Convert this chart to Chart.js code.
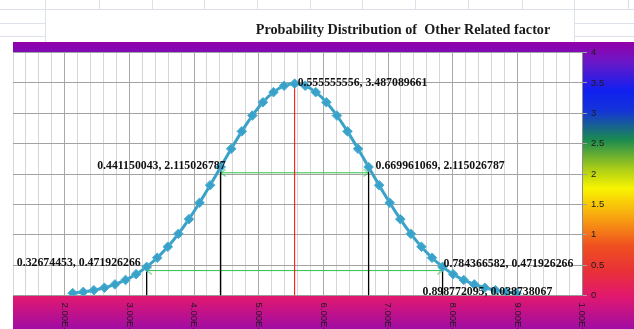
<!DOCTYPE html>
<html>
<head>
<meta charset="utf-8">
<script src="https://cdn.jsdelivr.net/npm/chart.js@4.4.1/dist/chart.umd.min.js"></script>
<style>
  html, body { margin: 0; padding: 0; background: #fff; }
  #wrap { width: 634px; height: 329px; }
</style>
</head>
<body>
<div id="wrap"><canvas id="chart" width="634" height="329"></canvas></div>
<script>
const titleText = "Probability Distribution of  Other Related factor";

// curve points
const curveX = [0.21234, 0.22868, 0.24502, 0.26137, 0.27771, 0.29406, 0.31040, 0.32674, 0.34309, 0.35943,
    0.37577, 0.39212, 0.40846, 0.42481, 0.44115, 0.45749, 0.47384, 0.49018, 0.50652, 0.52287,
    0.53921, 0.55556, 0.57190, 0.58824, 0.60459, 0.62093, 0.63728, 0.65362, 0.66996, 0.68631,
    0.70265, 0.71899, 0.73534, 0.75168, 0.76803, 0.78437, 0.80071, 0.81706, 0.83340, 0.84974,
    0.86609, 0.88243, 0.89877];
const curveY = [0.0387, 0.0589, 0.0876, 0.1278, 0.1827, 0.2558, 0.3510, 0.4719, 0.6216, 0.8023,
    1.0145, 1.2569, 1.5258, 1.8149, 2.1150, 2.4151, 2.7019, 2.9618, 3.1811, 3.3476,
    3.4517, 3.4871, 3.4517, 3.3476, 3.1811, 2.9618, 2.7019, 2.4151, 2.1150, 1.8149,
    1.5258, 1.2569, 1.0145, 0.8023, 0.6216, 0.4719, 0.3510, 0.2558, 0.1827, 0.1278,
    0.0876, 0.0589, 0.0387];

// labelled points
const labelX = [0.32674453, 0.441150043, 0.555555556, 0.669961069, 0.784366582, 0.898772095];
const labelY = [0.471926266, 2.115026787, 3.487089661, 2.115026787, 0.471926266, 0.038738067];

// drop lines
const dropX = [0.32674453, 0.441150043, 0.669961069, 0.784366582];
const dropTop = [0.44, 2.07, 2.07, 0.44];
const meanX = [0.555555556];
const meanTop = [3.487089661];

// arrows between the pairs
const arrowFrom = [0.441150043, 0.32674453];
const arrowTo = [0.669961069, 0.784366582];
const arrowY = [2.02, 0.41];

const xTickValues = [0.2, 0.3, 0.4, 0.5, 0.6, 0.7, 0.8, 0.9, 1.0];
const xTickLabels = ["2.00E-01", "3.00E-01", "4.00E-01", "5.00E-01", "6.00E-01",
    "7.00E-01", "8.00E-01", "9.00E-01", "1.00E+00"];
const yTickLabels = ["0", "0.5", "1", "1.5", "2", "2.5", "3", "3.5", "4"];

const teal = "#3aa2c8";
const green = "#2fc24c";

// label placement relative to its point
const labelPlace = [
    {dx: -6, dy: -4, align: "right"},
    {dx: 5, dy: -1.5, align: "right"},
    {dx: 3, dy: -1, align: "left"},
    {dx: 7, dy: -1.5, align: "left"},
    {dx: 1, dy: -2.5, align: "left"},
    {dx: -94, dy: -1.5, align: "left"}
];

function chevron() {
    const c = document.createElement("canvas");
    c.width = 12;
    c.height = 8;
    const g = c.getContext("2d");
    g.strokeStyle = green;
    g.lineWidth = 1;
    g.beginPath();
    g.moveTo(11, 0.5);
    g.lineTo(6, 4);
    g.lineTo(11, 7.5);
    g.stroke();
    return c;
}
const arrowHead = chevron();

const datasets = [];
datasets.push({
    data: curveX.map((x, i) => ({x: x, y: curveY[i]})),
    showLine: true,
    borderColor: teal,
    borderWidth: 3,
    tension: 0.3,
    pointStyle: "rectRot",
    pointRadius: 4.8,
    pointBackgroundColor: teal,
    pointBorderColor: "#4ab0d4",
    pointBorderWidth: 1
});
meanX.forEach((x, i) => {
    datasets.push({
        data: [{x: x, y: 0}, {x: x, y: meanTop[i]}],
        showLine: true, borderColor: "#ff0000", borderWidth: 1, pointRadius: 0
    });
});
dropX.forEach((x, i) => {
    datasets.push({
        data: [{x: x, y: 0}, {x: x, y: dropTop[i]}],
        showLine: true, borderColor: "#000000", borderWidth: 1.3, pointRadius: 0
    });
});
arrowY.forEach((y, i) => {
    datasets.push({
        data: [{x: arrowFrom[i], y: y}, {x: arrowTo[i], y: y}],
        showLine: true, borderColor: green, borderWidth: 1,
        pointStyle: arrowHead, pointRadius: 3, pointRotation: [0, 180]
    });
});

const backdrop = {
    id: "backdrop",
    beforeDraw(chart) {
        const {ctx, chartArea: a} = chart;
        ctx.save();
        ctx.fillStyle = "#ffffff";
        ctx.fillRect(0, 0, chart.width, chart.height);

        // worksheet cells behind the chart
        ctx.strokeStyle = "#dde2ea";
        ctx.lineWidth = 1;
        ctx.beginPath();
        ctx.moveTo(0, 9.5); ctx.lineTo(634, 9.5);
        [45, 99, 152, 204, 257, 310, 362, 415, 468, 522, 574, 628].forEach(x => {
            ctx.moveTo(x + 0.5, 0); ctx.lineTo(x + 0.5, 9.5);
        });
        [45, 574].forEach(x => { ctx.moveTo(x + 0.5, 9.5); ctx.lineTo(x + 0.5, 42); });
        [23.5, 36.5].forEach(y => {
            ctx.moveTo(0, y); ctx.lineTo(45, y);
            ctx.moveTo(574, y); ctx.lineTo(634, y);
        });
        ctx.stroke();

        // chart area fill
        const g = ctx.createLinearGradient(0, 42, 0, 329);
        g.addColorStop(0, "#9400a8");
        g.addColorStop(0.07, "#6a18c8");
        g.addColorStop(0.17, "#1020f0");
        g.addColorStop(0.24, "#1434d8");
        g.addColorStop(0.34, "#1a8a50");
        g.addColorStop(0.44, "#a8cc18");
        g.addColorStop(0.51, "#f8f400");
        g.addColorStop(0.61, "#f8a410");
        g.addColorStop(0.71, "#f05020");
        g.addColorStop(0.80, "#e83038");
        g.addColorStop(0.885, "#e2186e");
        g.addColorStop(1, "#a00ca4");
        ctx.fillStyle = g;
        ctx.fillRect(13, 42, 621, 287);

        ctx.fillStyle = "#ffffff";
        ctx.fillRect(a.left, a.top, a.right - a.left, a.bottom - a.top);

        ctx.font = "bold 14.2px 'Liberation Serif'";
        ctx.fillStyle = "#1a1a1a";
        ctx.textAlign = "center";
        ctx.textBaseline = "middle";
        ctx.fillText(titleText, 403, 30);
        ctx.restore();
    },
    afterDatasetsDraw(chart) {
        const {ctx, chartArea: a, scales} = chart;
        ctx.save();
        ctx.font = "bold 11.8px 'Liberation Serif'";
        ctx.fillStyle = "#111111";
        ctx.textBaseline = "middle";
        labelX.forEach((x, i) => {
            const p = labelPlace[i];
            ctx.textAlign = p.align;
            ctx.fillText(x + ", " + labelY[i],
                scales.x.getPixelForValue(x) + p.dx,
                scales.y.getPixelForValue(labelY[i]) + p.dy);
        });

        // x axis labels, rotated to read downwards
        ctx.font = "9.5px 'Liberation Sans'";
        ctx.fillStyle = "#1a1a1a";
        ctx.textAlign = "left";
        xTickValues.forEach((v, i) => {
            ctx.save();
            ctx.translate(scales.x.getPixelForValue(v), a.bottom + 7);
            ctx.rotate(Math.PI / 2);
            ctx.fillText(xTickLabels[i], 0, 0);
            ctx.restore();
        });
        ctx.restore();
    }
};

new Chart(document.getElementById("chart"), {
    type: "scatter",
    data: {datasets: datasets},
    plugins: [backdrop],
    options: {
        responsive: false,
        animation: false,
        devicePixelRatio: 1,
        layout: {padding: {left: 13, top: 52.5, right: 0, bottom: 0}},
        plugins: {
            legend: {display: false},
            tooltip: {enabled: false}
        },
        scales: {
            x: {
                type: "linear",
                min: 0.12,
                max: 1.0,
                afterBuildTicks: s => {
                    const t = [];
                    for (let k = 0; k <= 44; k++) t.push({value: 0.12 + k * 0.02});
                    s.ticks = t;
                },
                afterFit: s => { s.height = 33.5; },
                ticks: {display: false},
                grid: {
                    drawTicks: false,
                    color: c => {
                        const v = c.tick ? c.tick.value * 10 : 0;
                        return Math.abs(v - Math.round(v)) < 1e-6 ? "#a9a9a9" : "#d6d6d6";
                    }
                },
                border: {color: "#9a9a9a"}
            },
            y: {
                position: "right",
                min: 0,
                max: 4,
                afterFit: s => { s.width = 52; },
                ticks: {
                    stepSize: 0.5,
                    padding: 4,
                    color: "#1a1a1a",
                    font: {family: "'Liberation Sans'", size: 9.5},
                    callback: (v, i) => yTickLabels[i]
                },
                grid: {color: "#a2a2a2", tickLength: 5},
                border: {color: "#8c8c8c"}
            }
        }
    }
});
</script>
</body>
</html>
